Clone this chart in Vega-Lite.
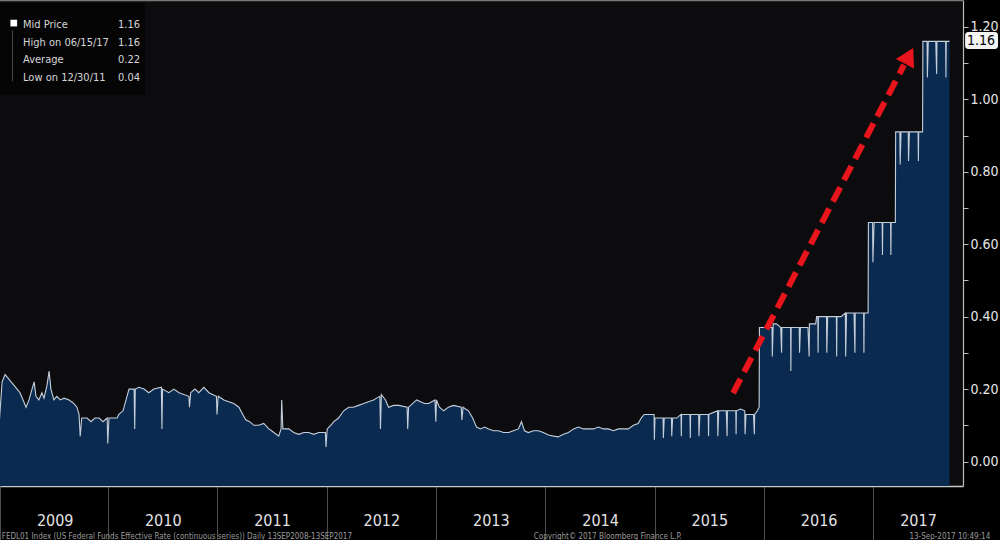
{
  "$schema": "https://vega.github.io/schema/vega-lite/v6.json",
  "width": 963,
  "height": 486,
  "autosize": {"type": "none"},
  "padding": {"left": 0, "top": 0, "right": 37, "bottom": 54},
  "background": "#000000",
  "config": {"view": {"fill": "#0c0c0e", "stroke": null}, "font": "DejaVu Sans Condensed, Liberation Sans, sans-serif"},
  "datasets": {
    "rate": [
      {"date": "2009-01-02", "rate": 0.10}, {"date": "2009-01-12", "rate": 0.22}, {"date": "2009-01-22", "rate": 0.24},
      {"date": "2009-02-01", "rate": 0.23}, {"date": "2009-02-11", "rate": 0.22}, {"date": "2009-02-21", "rate": 0.21},
      {"date": "2009-03-03", "rate": 0.20}, {"date": "2009-03-13", "rate": 0.19}, {"date": "2009-03-23", "rate": 0.17},
      {"date": "2009-04-02", "rate": 0.15}, {"date": "2009-04-12", "rate": 0.17}, {"date": "2009-04-22", "rate": 0.20},
      {"date": "2009-04-29", "rate": 0.22}, {"date": "2009-05-05", "rate": 0.18}, {"date": "2009-05-15", "rate": 0.17},
      {"date": "2009-05-25", "rate": 0.19}, {"date": "2009-06-01", "rate": 0.175}, {"date": "2009-06-11", "rate": 0.21},
      {"date": "2009-06-18", "rate": 0.25}, {"date": "2009-06-24", "rate": 0.20}, {"date": "2009-07-04", "rate": 0.17},
      {"date": "2009-07-14", "rate": 0.18}, {"date": "2009-07-25", "rate": 0.17}, {"date": "2009-08-07", "rate": 0.175},
      {"date": "2009-08-24", "rate": 0.17}, {"date": "2009-09-09", "rate": 0.16}, {"date": "2009-09-19", "rate": 0.15},
      {"date": "2009-09-26", "rate": 0.13}, {"date": "2009-09-30", "rate": 0.07}, {"date": "2009-10-05", "rate": 0.12},
      {"date": "2009-10-23", "rate": 0.12}, {"date": "2009-11-05", "rate": 0.11}, {"date": "2009-11-18", "rate": 0.12},
      {"date": "2009-12-02", "rate": 0.12}, {"date": "2009-12-15", "rate": 0.11}, {"date": "2009-12-29", "rate": 0.12},
      {"date": "2009-12-31", "rate": 0.05}, {"date": "2010-01-04", "rate": 0.12}, {"date": "2010-01-17", "rate": 0.12},
      {"date": "2010-01-31", "rate": 0.12}, {"date": "2010-02-06", "rate": 0.13}, {"date": "2010-02-20", "rate": 0.14},
      {"date": "2010-03-02", "rate": 0.17}, {"date": "2010-03-12", "rate": 0.20}, {"date": "2010-03-29", "rate": 0.20},
      {"date": "2010-03-31", "rate": 0.09}, {"date": "2010-04-02", "rate": 0.20}, {"date": "2010-04-14", "rate": 0.205},
      {"date": "2010-05-01", "rate": 0.20}, {"date": "2010-05-17", "rate": 0.19}, {"date": "2010-06-03", "rate": 0.20},
      {"date": "2010-06-28", "rate": 0.205}, {"date": "2010-06-30", "rate": 0.09}, {"date": "2010-07-02", "rate": 0.20},
      {"date": "2010-07-23", "rate": 0.19}, {"date": "2010-08-09", "rate": 0.20}, {"date": "2010-08-26", "rate": 0.19},
      {"date": "2010-09-28", "rate": 0.18}, {"date": "2010-09-30", "rate": 0.15}, {"date": "2010-10-04", "rate": 0.19},
      {"date": "2010-10-18", "rate": 0.20}, {"date": "2010-10-31", "rate": 0.19}, {"date": "2010-11-17", "rate": 0.205},
      {"date": "2010-12-04", "rate": 0.19}, {"date": "2010-12-29", "rate": 0.18}, {"date": "2010-12-31", "rate": 0.13},
      {"date": "2011-01-04", "rate": 0.18}, {"date": "2011-01-23", "rate": 0.17}, {"date": "2011-02-08", "rate": 0.165},
      {"date": "2011-02-25", "rate": 0.16}, {"date": "2011-03-14", "rate": 0.15}, {"date": "2011-03-27", "rate": 0.13},
      {"date": "2011-04-06", "rate": 0.115}, {"date": "2011-04-19", "rate": 0.11}, {"date": "2011-05-03", "rate": 0.10},
      {"date": "2011-05-19", "rate": 0.10}, {"date": "2011-06-05", "rate": 0.105}, {"date": "2011-06-22", "rate": 0.09},
      {"date": "2011-07-09", "rate": 0.08}, {"date": "2011-07-25", "rate": 0.07}, {"date": "2011-08-02", "rate": 0.09},
      {"date": "2011-08-04", "rate": 0.17}, {"date": "2011-08-08", "rate": 0.09}, {"date": "2011-08-28", "rate": 0.09},
      {"date": "2011-09-13", "rate": 0.08}, {"date": "2011-09-30", "rate": 0.075}, {"date": "2011-10-17", "rate": 0.08},
      {"date": "2011-11-02", "rate": 0.08}, {"date": "2011-11-19", "rate": 0.075}, {"date": "2011-12-06", "rate": 0.08},
      {"date": "2011-12-28", "rate": 0.08}, {"date": "2011-12-30", "rate": 0.04}, {"date": "2012-01-03", "rate": 0.09},
      {"date": "2012-01-15", "rate": 0.10}, {"date": "2012-01-25", "rate": 0.11}, {"date": "2012-02-10", "rate": 0.12},
      {"date": "2012-02-27", "rate": 0.14}, {"date": "2012-03-15", "rate": 0.15}, {"date": "2012-03-31", "rate": 0.15},
      {"date": "2012-04-17", "rate": 0.155}, {"date": "2012-05-04", "rate": 0.16}, {"date": "2012-05-20", "rate": 0.165},
      {"date": "2012-06-06", "rate": 0.17}, {"date": "2012-06-16", "rate": 0.175}, {"date": "2012-06-27", "rate": 0.18},
      {"date": "2012-06-29", "rate": 0.09}, {"date": "2012-07-02", "rate": 0.185}, {"date": "2012-07-16", "rate": 0.17},
      {"date": "2012-07-26", "rate": 0.15}, {"date": "2012-08-12", "rate": 0.155}, {"date": "2012-08-29", "rate": 0.155},
      {"date": "2012-09-26", "rate": 0.15}, {"date": "2012-09-28", "rate": 0.09}, {"date": "2012-10-01", "rate": 0.15},
      {"date": "2012-10-14", "rate": 0.16}, {"date": "2012-10-28", "rate": 0.17}, {"date": "2012-11-10", "rate": 0.165},
      {"date": "2012-11-23", "rate": 0.16}, {"date": "2012-12-07", "rate": 0.16}, {"date": "2012-12-28", "rate": 0.17},
      {"date": "2012-12-31", "rate": 0.11}, {"date": "2013-01-02", "rate": 0.17}, {"date": "2013-01-12", "rate": 0.15},
      {"date": "2013-01-26", "rate": 0.14}, {"date": "2013-02-11", "rate": 0.15}, {"date": "2013-02-28", "rate": 0.155},
      {"date": "2013-03-26", "rate": 0.15}, {"date": "2013-03-28", "rate": 0.115}, {"date": "2013-04-01", "rate": 0.15},
      {"date": "2013-04-09", "rate": 0.145}, {"date": "2013-04-19", "rate": 0.14}, {"date": "2013-05-03", "rate": 0.12},
      {"date": "2013-05-16", "rate": 0.095}, {"date": "2013-05-29", "rate": 0.09}, {"date": "2013-06-12", "rate": 0.095},
      {"date": "2013-06-25", "rate": 0.09}, {"date": "2013-07-12", "rate": 0.085}, {"date": "2013-07-28", "rate": 0.085},
      {"date": "2013-08-14", "rate": 0.08}, {"date": "2013-08-31", "rate": 0.08}, {"date": "2013-09-16", "rate": 0.085},
      {"date": "2013-10-03", "rate": 0.09}, {"date": "2013-10-13", "rate": 0.11}, {"date": "2013-10-23", "rate": 0.085},
      {"date": "2013-11-05", "rate": 0.08}, {"date": "2013-11-22", "rate": 0.085}, {"date": "2013-12-09", "rate": 0.085},
      {"date": "2013-12-25", "rate": 0.08}, {"date": "2014-01-11", "rate": 0.073}, {"date": "2014-01-28", "rate": 0.07},
      {"date": "2014-02-13", "rate": 0.068}, {"date": "2014-03-02", "rate": 0.075}, {"date": "2014-03-19", "rate": 0.08},
      {"date": "2014-04-05", "rate": 0.09}, {"date": "2014-04-21", "rate": 0.095}, {"date": "2014-05-08", "rate": 0.09},
      {"date": "2014-05-25", "rate": 0.09}, {"date": "2014-06-10", "rate": 0.09}, {"date": "2014-06-27", "rate": 0.095},
      {"date": "2014-07-14", "rate": 0.09}, {"date": "2014-07-30", "rate": 0.09}, {"date": "2014-08-16", "rate": 0.085},
      {"date": "2014-09-02", "rate": 0.09}, {"date": "2014-09-18", "rate": 0.09}, {"date": "2014-10-05", "rate": 0.09},
      {"date": "2014-10-22", "rate": 0.10}, {"date": "2014-11-07", "rate": 0.105}, {"date": "2014-11-17", "rate": 0.12},
      {"date": "2014-11-27", "rate": 0.13}, {"date": "2014-12-11", "rate": 0.13}, {"date": "2014-12-30", "rate": 0.13},
      {"date": "2014-12-31", "rate": 0.06}, {"date": "2015-01-02", "rate": 0.12}, {"date": "2015-01-15", "rate": 0.12},
      {"date": "2015-01-29", "rate": 0.12}, {"date": "2015-01-30", "rate": 0.065}, {"date": "2015-02-02", "rate": 0.12},
      {"date": "2015-02-13", "rate": 0.12}, {"date": "2015-02-26", "rate": 0.12}, {"date": "2015-02-27", "rate": 0.07},
      {"date": "2015-03-02", "rate": 0.12}, {"date": "2015-03-16", "rate": 0.12}, {"date": "2015-03-30", "rate": 0.13},
      {"date": "2015-03-31", "rate": 0.07}, {"date": "2015-04-01", "rate": 0.13}, {"date": "2015-04-15", "rate": 0.13},
      {"date": "2015-04-29", "rate": 0.13}, {"date": "2015-04-30", "rate": 0.065}, {"date": "2015-05-01", "rate": 0.13},
      {"date": "2015-05-15", "rate": 0.13}, {"date": "2015-05-28", "rate": 0.13}, {"date": "2015-05-29", "rate": 0.07},
      {"date": "2015-06-01", "rate": 0.13}, {"date": "2015-06-15", "rate": 0.13}, {"date": "2015-06-29", "rate": 0.13},
      {"date": "2015-06-30", "rate": 0.07}, {"date": "2015-07-01", "rate": 0.13}, {"date": "2015-07-15", "rate": 0.135},
      {"date": "2015-07-30", "rate": 0.14}, {"date": "2015-07-31", "rate": 0.07}, {"date": "2015-08-03", "rate": 0.14},
      {"date": "2015-08-17", "rate": 0.14}, {"date": "2015-08-28", "rate": 0.14}, {"date": "2015-08-31", "rate": 0.07},
      {"date": "2015-09-01", "rate": 0.14}, {"date": "2015-09-15", "rate": 0.14}, {"date": "2015-09-29", "rate": 0.14},
      {"date": "2015-09-30", "rate": 0.075}, {"date": "2015-10-01", "rate": 0.14}, {"date": "2015-10-15", "rate": 0.145},
      {"date": "2015-10-29", "rate": 0.14}, {"date": "2015-10-30", "rate": 0.075}, {"date": "2015-11-02", "rate": 0.13},
      {"date": "2015-11-16", "rate": 0.13}, {"date": "2015-11-27", "rate": 0.13}, {"date": "2015-11-30", "rate": 0.075},
      {"date": "2015-12-01", "rate": 0.13}, {"date": "2015-12-10", "rate": 0.14}, {"date": "2015-12-16", "rate": 0.15},
      {"date": "2015-12-17", "rate": 0.37}, {"date": "2016-01-15", "rate": 0.37}, {"date": "2016-01-28", "rate": 0.37},
      {"date": "2016-01-29", "rate": 0.29}, {"date": "2016-02-01", "rate": 0.38}, {"date": "2016-02-12", "rate": 0.38},
      {"date": "2016-02-26", "rate": 0.37}, {"date": "2016-02-29", "rate": 0.30}, {"date": "2016-03-01", "rate": 0.37},
      {"date": "2016-03-15", "rate": 0.37}, {"date": "2016-03-30", "rate": 0.37}, {"date": "2016-03-31", "rate": 0.25},
      {"date": "2016-04-01", "rate": 0.37}, {"date": "2016-04-15", "rate": 0.37}, {"date": "2016-04-28", "rate": 0.37},
      {"date": "2016-04-29", "rate": 0.30}, {"date": "2016-05-02", "rate": 0.37}, {"date": "2016-05-16", "rate": 0.37},
      {"date": "2016-05-27", "rate": 0.37}, {"date": "2016-05-31", "rate": 0.29}, {"date": "2016-06-01", "rate": 0.38},
      {"date": "2016-06-15", "rate": 0.38}, {"date": "2016-06-22", "rate": 0.38}, {"date": "2016-06-25", "rate": 0.40},
      {"date": "2016-06-29", "rate": 0.40}, {"date": "2016-06-30", "rate": 0.30}, {"date": "2016-07-01", "rate": 0.40},
      {"date": "2016-07-15", "rate": 0.40}, {"date": "2016-07-28", "rate": 0.40}, {"date": "2016-07-29", "rate": 0.30},
      {"date": "2016-08-01", "rate": 0.40}, {"date": "2016-08-15", "rate": 0.40}, {"date": "2016-08-30", "rate": 0.40},
      {"date": "2016-08-31", "rate": 0.29}, {"date": "2016-09-01", "rate": 0.40}, {"date": "2016-09-15", "rate": 0.40},
      {"date": "2016-09-29", "rate": 0.41}, {"date": "2016-09-30", "rate": 0.29}, {"date": "2016-10-03", "rate": 0.41},
      {"date": "2016-10-14", "rate": 0.41}, {"date": "2016-10-28", "rate": 0.41}, {"date": "2016-10-31", "rate": 0.30},
      {"date": "2016-11-01", "rate": 0.41}, {"date": "2016-11-15", "rate": 0.41}, {"date": "2016-11-29", "rate": 0.41},
      {"date": "2016-11-30", "rate": 0.30}, {"date": "2016-12-01", "rate": 0.41}, {"date": "2016-12-14", "rate": 0.41},
      {"date": "2016-12-15", "rate": 0.66}, {"date": "2016-12-29", "rate": 0.66}, {"date": "2016-12-30", "rate": 0.55},
      {"date": "2017-01-03", "rate": 0.66}, {"date": "2017-01-17", "rate": 0.66}, {"date": "2017-01-30", "rate": 0.66},
      {"date": "2017-01-31", "rate": 0.57}, {"date": "2017-02-01", "rate": 0.66}, {"date": "2017-02-15", "rate": 0.66},
      {"date": "2017-02-27", "rate": 0.66}, {"date": "2017-02-28", "rate": 0.57}, {"date": "2017-03-01", "rate": 0.66},
      {"date": "2017-03-15", "rate": 0.66}, {"date": "2017-03-16", "rate": 0.91}, {"date": "2017-03-30", "rate": 0.91},
      {"date": "2017-03-31", "rate": 0.82}, {"date": "2017-04-03", "rate": 0.91}, {"date": "2017-04-17", "rate": 0.91},
      {"date": "2017-04-27", "rate": 0.91}, {"date": "2017-04-28", "rate": 0.83}, {"date": "2017-05-01", "rate": 0.91},
      {"date": "2017-05-15", "rate": 0.91}, {"date": "2017-05-30", "rate": 0.91}, {"date": "2017-05-31", "rate": 0.83},
      {"date": "2017-06-01", "rate": 0.91}, {"date": "2017-06-14", "rate": 0.91}, {"date": "2017-06-15", "rate": 1.16},
      {"date": "2017-06-29", "rate": 1.16}, {"date": "2017-06-30", "rate": 1.06}, {"date": "2017-07-03", "rate": 1.16},
      {"date": "2017-07-17", "rate": 1.16}, {"date": "2017-07-28", "rate": 1.16}, {"date": "2017-07-31", "rate": 1.07},
      {"date": "2017-08-01", "rate": 1.16}, {"date": "2017-08-15", "rate": 1.16}, {"date": "2017-08-30", "rate": 1.16},
      {"date": "2017-08-31", "rate": 1.06}, {"date": "2017-09-01", "rate": 1.16}, {"date": "2017-09-12", "rate": 1.16}
    ],
    "arrow": [
      {"date": "2015-09-20", "rate": 0.189},
      {"date": "2017-04-13", "rate": 1.095}
    ],
    "stats": [
      {"labels": ["Mid Price", "High on 06/15/17", "Average", "Low on 12/30/11"], "values": ["1.16", "1.16", "0.22", "0.04"]}
    ],
    "last": [{"date": "2017-09-12", "rate": 1.16}]
  },
  "layer": [
    {
      "data": {"name": "rate"},
      "mark": {"type": "area", "fill": "#0b2a50", "interpolate": "linear"},
      "encoding": {
        "x": {
          "field": "date", "type": "temporal", "title": null,
          "scale": {"domain": [{"year": 2009, "month": 1, "date": 5, "utc": true}, {"year": 2017, "month": 10, "date": 27, "utc": true}]},
          "axis": {
            "orient": "bottom",
            "values": [
              {"year": 2009, "month": 1, "date": 5, "utc": true}, {"year": 2010, "month": 1, "date": 1, "utc": true},
              {"year": 2011, "month": 1, "date": 1, "utc": true}, {"year": 2012, "month": 1, "date": 1, "utc": true},
              {"year": 2013, "month": 1, "date": 1, "utc": true}, {"year": 2014, "month": 1, "date": 1, "utc": true},
              {"year": 2015, "month": 1, "date": 1, "utc": true}, {"year": 2016, "month": 1, "date": 1, "utc": true},
              {"year": 2017, "month": 1, "date": 1, "utc": true}
            ],
            "labelExpr": "utcFormat(datum.value, '%Y')",
            "grid": false,
            "domainColor": "#c8c8c8", "domainWidth": 1.5,
            "tickSize": 54, "tickColor": "#505050", "tickWidth": 1,
            "labelPadding": -20, "labelBaseline": "middle", "labelAlign": "center",
            "labelOffset": {"condition": {"test": "utcyear(datum.value) == 2017", "value": 44.5}, "value": 54.7},
            "labelColor": "#e2e2e2", "labelFontSize": 16,
            "labelFlush": false, "labelOverlap": false, "labelBound": false
          }
        },
        "y": {
          "field": "rate", "type": "quantitative", "title": null,
          "scale": {"domain": [-0.0676, 1.2742], "nice": false, "zero": false},
          "axis": {
            "orient": "right",
            "values": [0, 0.1, 0.2, 0.3, 0.4, 0.5, 0.6, 0.7, 0.8, 0.9, 1.0, 1.1, 1.2],
            "labelExpr": "round(datum.value * 10) % 2 == 0 ? format(datum.value, '.2f') : ''",
            "grid": false,
            "domainColor": "#bdbdbd", "domainWidth": 1.2,
            "tickSize": 5, "tickColor": "#bdbdbd",
            "labelPadding": 2, "labelColor": "#e6e6e6", "labelFontSize": 14,
            "labelBaseline": "middle", "labelOverlap": false, "labelFlush": false
          }
        },
        "y2": {"datum": -0.0676}
      }
    },
    {
      "data": {"name": "rate"},
      "mark": {"type": "line", "stroke": "#c5cfdb", "strokeWidth": 1.1},
      "encoding": {
        "x": {"field": "date", "type": "temporal"},
        "y": {"field": "rate", "type": "quantitative"}
      }
    },
    {
      "data": {"values": [{}]},
      "mark": {"type": "rule", "stroke": "#7a7a7a", "strokeWidth": 1.5},
      "encoding": {"y": {"datum": 1.2725}}
    },
    {
      "data": {"values": [{}]},
      "mark": {"type": "rect", "fill": "#050506"},
      "encoding": {
        "x": {"datum": {"year": 2009, "month": 1, "date": 5, "utc": true}},
        "x2": {"datum": {"year": 2010, "month": 5, "date": 4, "utc": true}},
        "y": {"datum": 1.266},
        "y2": {"datum": 1.012}
      }
    },
    {
      "data": {"values": [{}]},
      "mark": {"type": "rule", "stroke": "#4a4a4a", "strokeWidth": 1},
      "encoding": {
        "x": {"datum": {"year": 2009, "month": 2, "date": 16, "utc": true}},
        "y": {"datum": 1.19},
        "y2": {"datum": 1.05}
      }
    },
    {
      "data": {"values": [{}]},
      "mark": {"type": "point", "shape": "square", "filled": true, "fill": "#ffffff", "size": 45, "opacity": 1, "strokeWidth": 0},
      "encoding": {
        "x": {"datum": {"year": 2009, "month": 2, "date": 20, "utc": true}},
        "y": {"datum": 1.2105}
      }
    },
    {
      "data": {"name": "stats"},
      "mark": {"type": "text", "align": "left", "baseline": "alphabetic", "fontSize": 11, "lineHeight": 17.7, "color": "#d6d6d6"},
      "encoding": {
        "x": {"datum": {"year": 2009, "month": 3, "date": 23, "utc": true}},
        "y": {"datum": 1.197},
        "text": {"field": "labels", "type": "nominal"}
      }
    },
    {
      "data": {"name": "stats"},
      "mark": {"type": "text", "align": "right", "baseline": "alphabetic", "fontSize": 11, "lineHeight": 17.7, "color": "#d6d6d6"},
      "encoding": {
        "x": {"datum": {"year": 2010, "month": 4, "date": 18, "utc": true}},
        "y": {"datum": 1.197},
        "text": {"field": "values", "type": "nominal"}
      }
    },
    {
      "data": {"name": "arrow"},
      "mark": {"type": "line", "stroke": "#e8161c", "strokeWidth": 6, "strokeDash": [16, 8], "strokeCap": "butt"},
      "encoding": {
        "x": {"field": "date", "type": "temporal"},
        "y": {"field": "rate", "type": "quantitative"}
      }
    },
    {
      "data": {"values": [{}]},
      "mark": {"type": "point", "shape": "triangle-up", "filled": true, "fill": "#e8161c", "size": 420, "angle": 28, "opacity": 1, "strokeWidth": 0},
      "encoding": {
        "x": {"datum": {"year": 2017, "month": 4, "date": 30, "utc": true}},
        "y": {"datum": 1.12}
      }
    },
    {
      "data": {"values": [{}]},
      "mark": {"type": "rect", "fill": "#f4f4f4", "cornerRadius": 3},
      "encoding": {
        "x": {"datum": {"year": 2017, "month": 11, "date": 3, "utc": true}},
        "x2": {"datum": {"year": 2018, "month": 2, "date": 21, "utc": true}},
        "y": {"datum": 1.186},
        "y2": {"datum": 1.139}
      }
    },
    {
      "data": {"name": "last"},
      "mark": {"type": "text", "align": "center", "baseline": "middle", "fontSize": 14, "color": "#000000"},
      "encoding": {
        "x": {"datum": {"year": 2017, "month": 12, "date": 26, "utc": true}},
        "y": {"field": "rate", "type": "quantitative"},
        "text": {"field": "rate", "type": "quantitative", "format": ".2f"}
      }
    },
    {
      "data": {"values": [{"note": "FEDL01 Index (US Federal Funds Effective Rate (continuous series))  Daily 13SEP2008-13SEP2017"}]},
      "mark": {"type": "text", "align": "left", "baseline": "top", "fontSize": 8, "color": "#9a9a9a"},
      "encoding": {
        "x": {"datum": {"year": 2009, "month": 1, "date": 11, "utc": true}},
        "y": {"datum": -0.198},
        "text": {"field": "note", "type": "nominal"}
      }
    },
    {
      "data": {"values": [{"note": "Copyright© 2017 Bloomberg Finance L.P."}]},
      "mark": {"type": "text", "align": "left", "baseline": "top", "fontSize": 8, "color": "#9a9a9a"},
      "encoding": {
        "x": {"datum": {"year": 2013, "month": 11, "date": 23, "utc": true}},
        "y": {"datum": -0.198},
        "text": {"field": "note", "type": "nominal"}
      }
    },
    {
      "data": {"values": [{"note": "13-Sep-2017 10:49:14"}]},
      "mark": {"type": "text", "align": "left", "baseline": "top", "fontSize": 8, "color": "#9a9a9a"},
      "encoding": {
        "x": {"datum": {"year": 2017, "month": 5, "date": 1, "utc": true}},
        "y": {"datum": -0.198},
        "text": {"field": "note", "type": "nominal"}
      }
    }
  ]
}
